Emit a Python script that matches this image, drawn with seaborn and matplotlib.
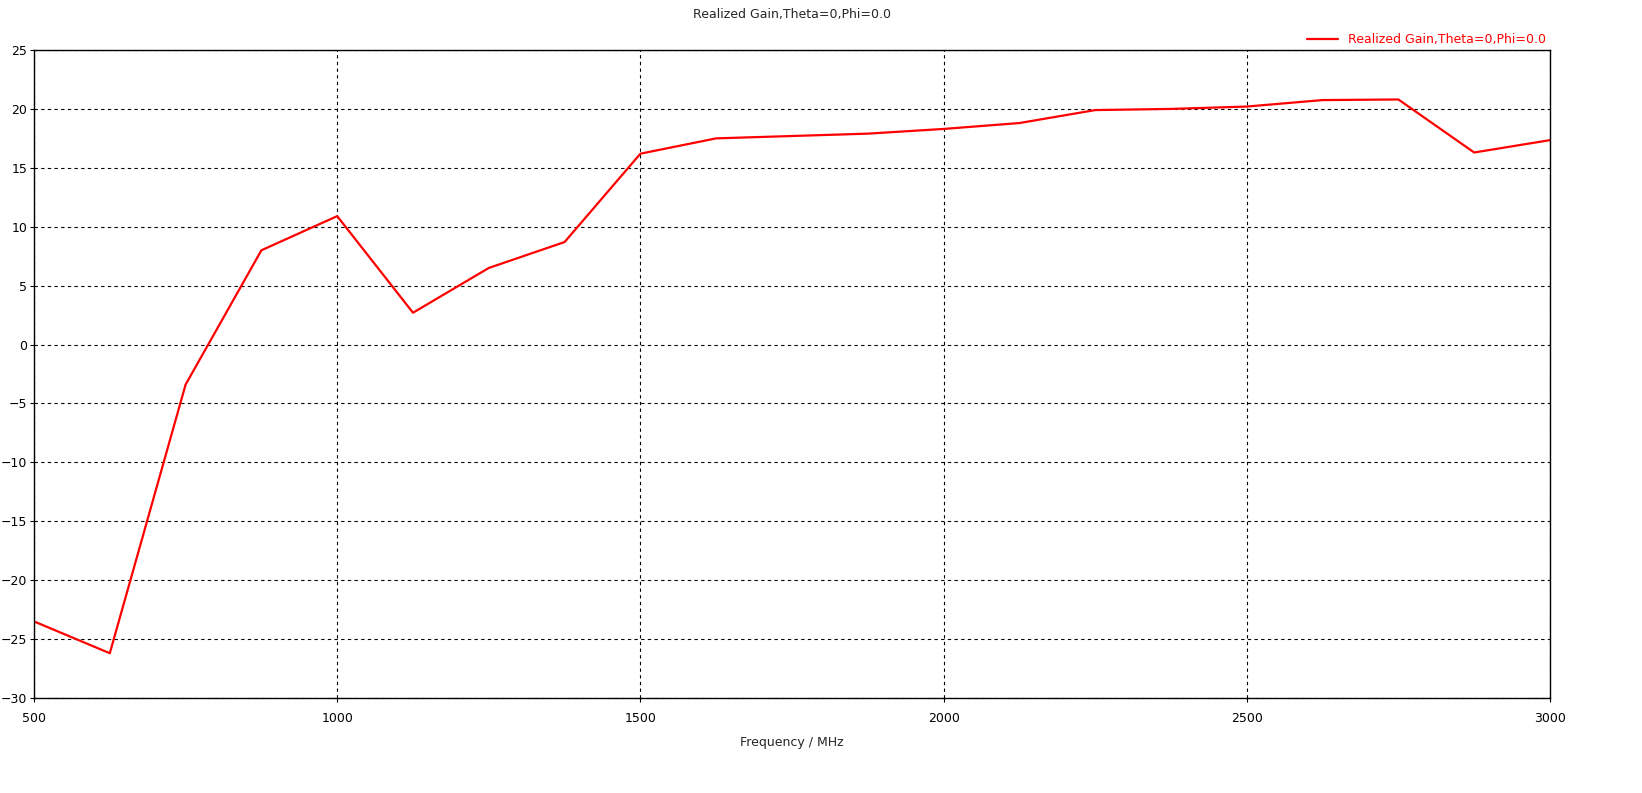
import pandas as pd
import matplotlib
matplotlib.use("Agg")
import matplotlib.pyplot as plt
import seaborn as sns

# =======================
# Data
# =======================
freq_mhz = [500, 625, 750, 875, 1000, 1125, 1250, 1375, 1500, 1625, 1750,
            1875, 2000, 2125, 2250, 2375, 2500, 2625, 2750, 2875, 3000]
gain_db = [-23.5, -26.2, -3.4, 8.0, 10.9, 2.7, 6.5, 8.7, 16.2, 17.5, 17.7,
           17.9, 18.3, 18.8, 19.9, 20.0, 20.2, 20.75, 20.8, 16.3, 17.35]
series_name = "Realized Gain,Theta=0,Phi=0.0"
x_ticks = [500, 1000, 1500, 2000, 2500, 3000]
y_ticks = list(range(-30, 30, 5))

df = pd.DataFrame({"Frequency": freq_mhz, "Gain": gain_db, "curve": series_name})

sns.set_style("white")
plt.rcParams["font.family"] = ["DejaVu Sans"]

fig = plt.figure(figsize=(16.42, 7.93), dpi=100)
ax = fig.add_axes([34 / 1642, 1 - 698 / 793, 1516 / 1642, 648 / 793])

sns.lineplot(data=df, x="Frequency", y="Gain", hue="curve", palette=["#ff0000"],
             linewidth=1.6, ax=ax)

ax.set_xlim(500, 3000)
ax.set_ylim(-30, 25)
ax.set_xticks(x_ticks)
ax.set_yticks(y_ticks)
ax.tick_params(axis="both", labelsize=9, length=3, width=0.8, direction="out",
               color="black", labelcolor="black", bottom=True, left=True)
ax.tick_params(axis="x", pad=7)
ax.tick_params(axis="y", pad=2)
ax.grid(True, color="black", linestyle=(0, (3, 3)), linewidth=0.8)
for s in ax.spines.values():
    s.set_color("black")
    s.set_linewidth(1.0)

ax.set_xlabel("Frequency / MHz", fontsize=9, labelpad=8)
ax.set_ylabel("")
ax.set_title(series_name, fontsize=9, pad=23)

leg = ax.legend(loc="lower right", bbox_to_anchor=(1.0, 1.0), frameon=False,
                fontsize=9, labelcolor="#ff0000", handlelength=2.5,
                borderaxespad=0.1, borderpad=0.2)

fig.savefig("out.png", dpi=100)
